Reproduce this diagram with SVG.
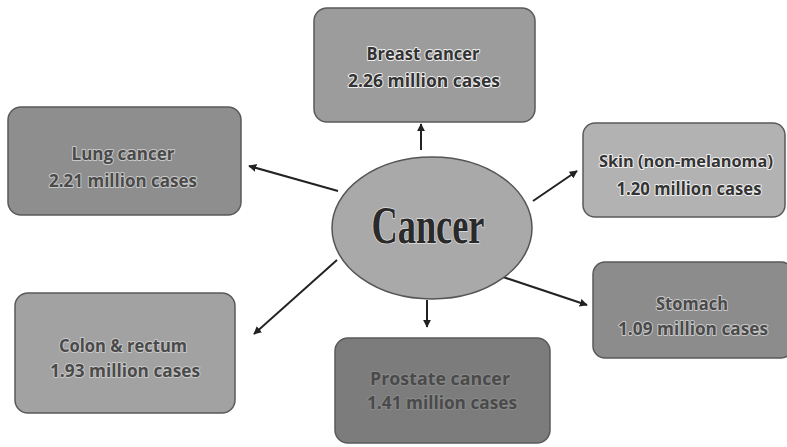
<svg xmlns="http://www.w3.org/2000/svg" width="787" height="447" viewBox="0 0 787 447">
<defs>
<marker id="ah" viewBox="0 0 10 10" refX="9" refY="5" markerWidth="4" markerHeight="4" orient="auto" markerUnits="strokeWidth">
<path d="M0,0 L10,5 L0,10 z" fill="#222"/>
</marker>
<style>
.box{stroke:#5a5a5a;stroke-width:1.5}
.lbl{font-family:"Open Sans","Liberation Sans",sans-serif;font-weight:bold;font-size:18px;text-anchor:middle;fill:#333;stroke:#eeeeee;stroke-width:2px;paint-order:stroke;stroke-linejoin:round}
.dim{fill:#4a4a4a;stroke:#c8c8c8}
.conn{stroke:#222;stroke-width:2;fill:none;marker-end:url(#ah)}
</style>
</defs>
<rect width="787" height="447" fill="#ffffff"/>
<g id="connectors">
<line class="conn" x1="421" y1="150" x2="421" y2="124"/>
<line class="conn" x1="338" y1="191" x2="249" y2="166"/>
<line class="conn" x1="533" y1="201" x2="577" y2="171"/>
<line class="conn" x1="337" y1="260" x2="254" y2="334"/>
<line class="conn" x1="427" y1="300" x2="427" y2="327"/>
<line class="conn" x1="503" y1="277" x2="587" y2="305"/>
</g>
<g id="breast">
<rect class="box" x="314" y="8" width="221" height="114" rx="13" fill="#9c9c9c"/>
<text class="lbl" x="423" y="60" textLength="113" lengthAdjust="spacingAndGlyphs">Breast cancer</text>
<text class="lbl" x="424" y="87" textLength="152" lengthAdjust="spacingAndGlyphs">2.26 million cases</text>
</g>
<g id="lung">
<rect class="box" x="8" y="107" width="233" height="108" rx="13" fill="#8e8e8e"/>
<text class="lbl dim" x="123" y="160" textLength="103" lengthAdjust="spacingAndGlyphs">Lung cancer</text>
<text class="lbl dim" x="123" y="187" textLength="148" lengthAdjust="spacingAndGlyphs">2.21 million cases</text>
</g>
<g id="skin">
<rect class="box" x="583" y="123" width="202" height="94" rx="12" fill="#b2b2b2"/>
<text class="lbl" x="686" y="167" style="font-size:16px" textLength="174" lengthAdjust="spacingAndGlyphs">Skin (non-melanoma)</text>
<text class="lbl" x="689" y="195" textLength="145" lengthAdjust="spacingAndGlyphs">1.20 million cases</text>
</g>
<g id="cancer">
<ellipse cx="432" cy="228" rx="100" ry="71" fill="#a9a9a9" stroke="#555" stroke-width="1.5"/>
<text x="428" y="243" font-family="'Liberation Serif','Times New Roman',serif" font-size="52" font-weight="bold" text-anchor="middle" fill="#2a2a2a" stroke="#e0e0e0" stroke-width="1.5" paint-order="stroke" textLength="113" lengthAdjust="spacingAndGlyphs">Cancer</text>
</g>
<g id="colon">
<rect class="box" x="15" y="293" width="220" height="120" rx="13" fill="#a2a2a2"/>
<text class="lbl dim" x="123" y="352" textLength="128" lengthAdjust="spacingAndGlyphs">Colon &amp; rectum</text>
<text class="lbl dim" x="125" y="377" textLength="150" lengthAdjust="spacingAndGlyphs">1.93 million cases</text>
</g>
<g id="prostate">
<rect class="box" x="335" y="338" width="215" height="105" rx="13" fill="#7c7c7c"/>
<text class="lbl dim" x="440" y="385" textLength="140" lengthAdjust="spacingAndGlyphs" style="stroke:#8a8a8a">Prostate cancer</text>
<text class="lbl dim" x="442" y="409" textLength="150" lengthAdjust="spacingAndGlyphs" style="stroke:#8a8a8a">1.41 million cases</text>
</g>
<g id="stomach">
<rect class="box" x="593" y="262" width="200" height="96" rx="12" fill="#8c8c8c"/>
<text class="lbl dim" x="692" y="310" textLength="72" lengthAdjust="spacingAndGlyphs">Stomach</text>
<text class="lbl dim" x="693" y="335" textLength="150" lengthAdjust="spacingAndGlyphs">1.09 million cases</text>
</g>
</svg>
